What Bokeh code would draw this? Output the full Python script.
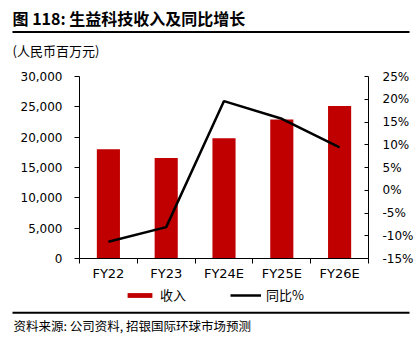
import numpy as np
from bokeh.plotting import figure
from bokeh.layouts import column
from bokeh.models import (Range1d, LinearAxis, FixedTicker, SingleIntervalTicker,
                          NumeralTickFormatter, PrintfTickFormatter, Legend, LegendItem)
from bokeh.core.properties import value
from bokeh.embed import file_html
from bokeh.resources import INLINE

# ---- data ----
categories = ["FY22", "FY23", "FY24E", "FY25E", "FY26E"]
revenue = [18000, 16550, 19820, 22910, 25120]          # 人民币百万元
yoy = [-11.3, -8.1, 19.6, 15.7, 9.4]                   # 同比 %
left_ticks_interval = 5000
right_ticks_interval = 5

title_text = "图 118: 生益科技收入及同比增长"
unit_text = "(人民币百万元)"
source_text = "资料来源: 公司资料, 招银国际环球市场预测"
bar_label = "收入"
line_label = "同比%"

num_font = "DejaVu Sans"
cjk_font = "Noto Sans CJK SC"
BAR_COLOR = "#C00000"

W = 420
TOP_H = 62          # canvas y 0..62
MAIN_H = 224        # canvas y 62..286
BOT_H = 351 - TOP_H - MAIN_H   # canvas y 286..351
FL, FR, FT, FB = 79, 368, 76, 258   # frame edges (canvas px)
BOT0 = TOP_H + MAIN_H


def blank(h):
    f = figure(width=W, height=h, x_range=Range1d(0, W), y_range=Range1d(h, 0),
               x_axis_location=None, y_axis_location=None, toolbar_location=None,
               output_backend="svg", min_border_left=0, min_border_right=0,
               min_border_top=0, min_border_bottom=0, frame_align=False)
    f.outline_line_color = None
    f.grid.visible = False
    return f


# ---- header ----
top = blank(TOP_H)
top.text(x=[12], y=[17], text=[title_text], text_font=value(cjk_font),
         text_font_style="bold", text_font_size="16px", text_color="black",
         text_baseline="middle")
top.segment(x0=[12], y0=[31.5], x1=[409], y1=[31.5], line_width=2, line_color="black")
top.text(x=[12], y=[50], text=[unit_text], text_font=value(cjk_font),
         text_font_size="13px", text_color="black", text_baseline="middle")

# ---- main chart ----
xs = np.arange(len(categories)) + 0.5

p = figure(width=W, height=MAIN_H, output_backend="svg", toolbar_location=None,
           x_range=Range1d(0, len(categories)), y_range=Range1d(0, 30000),
           min_border_left=FL, min_border_right=W - FR,
           min_border_top=FT - TOP_H, min_border_bottom=BOT0 - FB,
           frame_align=False)
p.outline_line_color = None
p.grid.visible = False
p.extra_y_ranges = {"pct": Range1d(-15, 25)}

xa = p.xaxis[0]
xa.ticker = FixedTicker(ticks=list(xs), minor_ticks=list(range(len(categories) + 1)))
xa.major_label_overrides = {float(x): c for x, c in zip(xs, categories)}
xa.major_tick_out = 0
xa.major_tick_in = 0
xa.minor_tick_out = 5
xa.minor_tick_in = 0
xa.minor_tick_line_color = "black"
xa.axis_line_color = "black"
xa.major_label_text_font = num_font
xa.major_label_text_font_size = "13px"
xa.major_label_text_color = "black"
xa.major_label_standoff = 2

ya = p.yaxis[0]
ya.ticker = SingleIntervalTicker(interval=left_ticks_interval)
ya.formatter = NumeralTickFormatter(format="0,0")
ya.major_tick_out = 5
ya.major_tick_in = 0
ya.minor_tick_out = 0
ya.minor_tick_in = 0
ya.axis_line_color = "black"
ya.major_tick_line_color = "black"
ya.major_label_text_font = num_font
ya.major_label_text_font_size = "12px"
ya.major_label_text_color = "black"
ya.major_label_standoff = 12

ra = LinearAxis(y_range_name="pct",
                ticker=SingleIntervalTicker(interval=right_ticks_interval),
                formatter=PrintfTickFormatter(format="%d%%"))
ra.major_tick_out = 0
ra.major_tick_in = 4
ra.minor_tick_out = 0
ra.minor_tick_in = 0
ra.axis_line_color = "black"
ra.major_tick_line_color = "black"
ra.major_label_text_font = num_font
ra.major_label_text_font_size = "12px"
ra.major_label_text_color = "black"
ra.major_label_standoff = 14
p.add_layout(ra, "right")

p.vbar(x=xs, top=revenue, width=0.4, fill_color=BAR_COLOR, line_color=None)
p.line(x=xs, y=yoy, y_range_name="pct", line_color="black", line_width=2.5)

# ---- footer (legend + source) ----
bot = blank(BOT_H)
# legend keys: same styles as the chart's renderers, holding no visible points
key_bar = bot.vbar(x=[np.nan], top=[np.nan], width=1, fill_color=BAR_COLOR, line_color=None)
key_line = bot.line(x=[np.nan], y=[np.nan], line_color="black", line_width=2.5)
legend = Legend(items=[LegendItem(label=bar_label, renderers=[key_bar]),
                       LegendItem(label=line_label, renderers=[key_line])],
                orientation="horizontal", location=(124, 47),
                glyph_width=31, glyph_height=6, label_height=14, label_width=20,
                label_standoff=5, spacing=44, padding=0, margin=0,
                border_line_color=None, background_fill_alpha=0,
                label_text_font=cjk_font, label_text_font_size="13px",
                label_text_color="black")
bot.add_layout(legend, "center")

bot.segment(x0=[12], y0=[312.3 - BOT0], x1=[409], y1=[312.3 - BOT0],
            line_width=2, line_color="black")
bot.text(x=[13], y=[325 - BOT0], text=[source_text], text_font=value(cjk_font),
         text_font_size="12.5px", text_color="black", text_baseline="middle")

layout = column(top, p, bot, spacing=0)
open("out.html", "w").write(file_html(layout, INLINE))
